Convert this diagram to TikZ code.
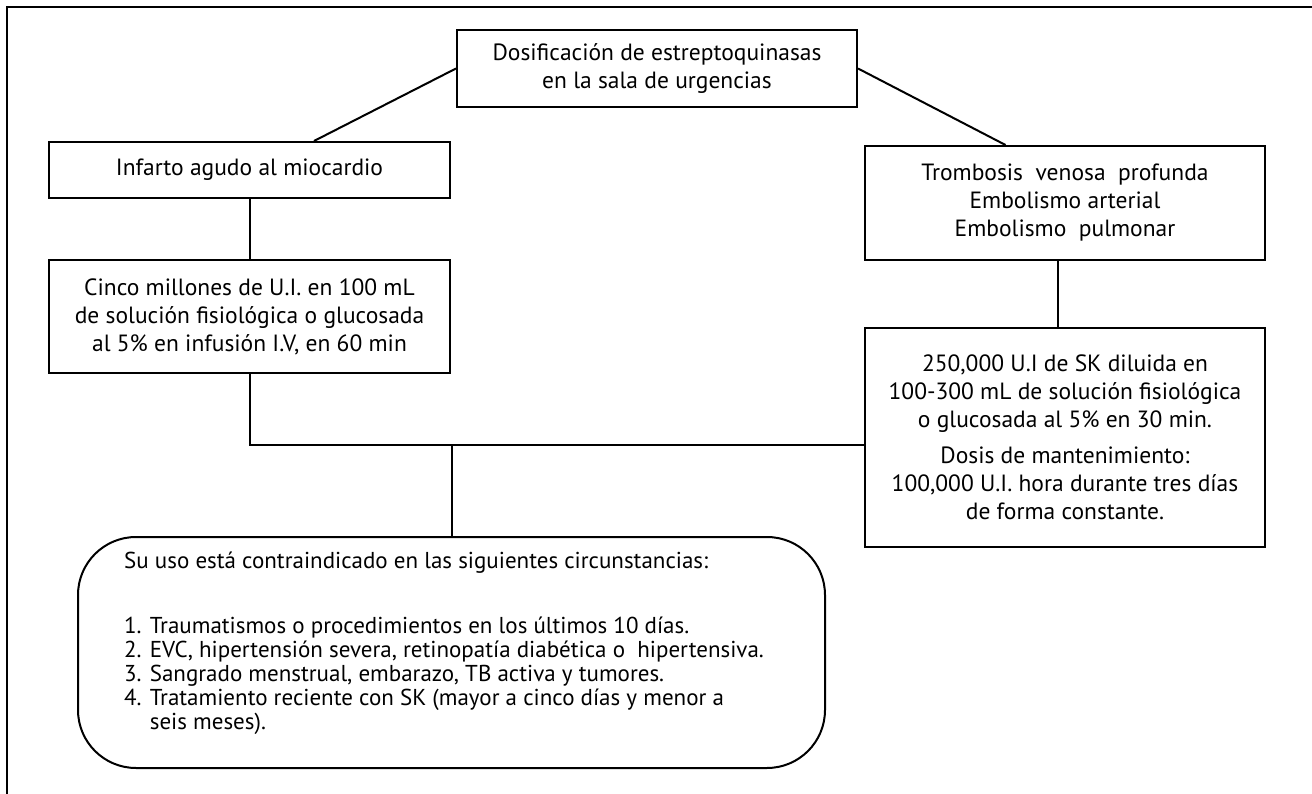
\documentclass[tikz,border=0pt]{standalone}
\usepackage{fontspec}
\setmainfont{PT Sans}
\begin{document}
\begin{tikzpicture}[x=1pt,y=-1pt,
  every node/.style={font=\fontsize{23.5}{28}\selectfont},
  box/.style={draw,line width=2pt,inner sep=0pt,align=center},
  roundbox/.style={draw,line width=2pt,rounded corners=58pt,inner sep=0pt},
  conn/.style={line width=2pt}]
\useasboundingbox (0,0) rectangle (1312,794);
\draw[line width=2pt] (1320,7) -- (7,7) -- (7,800);
\node[box,minimum width=400,minimum height=77] (top) at (657,68.5)
  {Dosificación de estreptoquinasas\\en la sala de urgencias};
\node[box,minimum width=401,minimum height=56] (inf) at (249.5,170)
  {Infarto agudo al miocardio};
\node[box,minimum width=401,minimum height=113] (cinco) at (249.5,316.5)
  {Cinco millones de U.I. en 100 mL\\de solución fisiológica o glucosada\\al 5\% en infusión I.V, en 60 min};
\node[box,minimum width=400,minimum height=114] (trom) at (1065,203)
  {Trombosis\ \ venosa\ \ profunda\\Embolismo arterial\\Embolismo\ \ pulmonar};
\node[box,minimum width=400,minimum height=219] (sk) at (1065,437.5)
  {250,000 U.I de SK diluida en\\100-300 mL de solución fisiológica\\o glucosada al 5\% en 30 min.\\[8pt]Dosis de mantenimiento:\\100,000 U.I. hora durante tres días\\de forma constante.};
\node[roundbox,minimum width=747,minimum height=231] (contra) at (451.5,652.5) {};
\node[anchor=north west,inner sep=0pt,align=left,font=\fontsize{23}{24}\selectfont] (contratxt) at (124,552)
  {Su uso está contraindicado en las siguientes circunstancias:\\[41pt]
   1. Traumatismos o procedimientos en los últimos 10 días.\\
   2. EVC, hipertensión severa, retinopatía diabética o\ \ hipertensiva.\\
   3. Sangrado menstrual, embarazo, TB activa y tumores.\\
   4. Tratamiento reciente con SK (mayor a cinco días y menor a\\
   \phantom{4. }seis meses).};
\coordinate (j) at (451.5,445);
\draw[conn] (top.west) -- ([xshift=64.5pt]inf.north);
\draw[conn] (top.east) -- ([xshift=-59.5pt]trom.north);
\draw[conn] (inf.south) -- (cinco.south |- cinco.north);
\draw[conn] ([xshift=-7pt]trom.south) -- ([xshift=-7pt]sk.north);
\draw[conn] (cinco.south) |- (j -| sk.west);
\draw[conn] (j) -- (contra.north);
\end{tikzpicture}
\end{document}
